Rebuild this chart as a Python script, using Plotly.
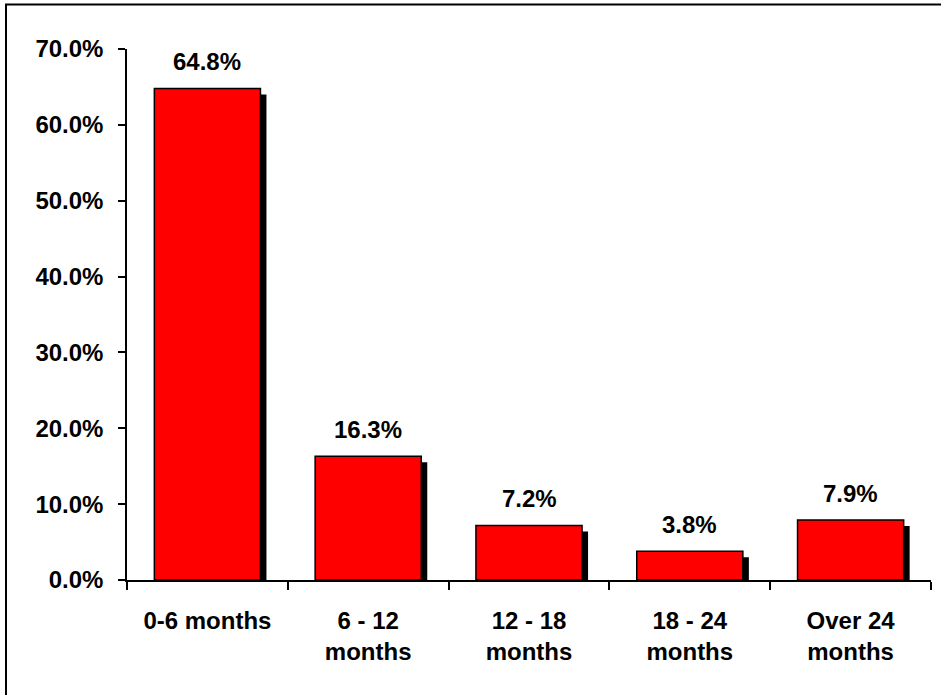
import plotly.graph_objects as go

categories = ["0-6 months", "6 - 12<br>months", "12 - 18<br>months", "18 - 24<br>months", "Over 24<br>months"]
values = [64.8, 16.3, 7.2, 3.8, 7.9]
tick_vals = [0, 10, 20, 30, 40, 50, 60, 70]

FONT = "Liberation Sans, Arial, sans-serif"
W, H = 941, 695
L, R, T, B = 127, 10, 49, 115
pw, ph = W - L - R, H - T - B

bar_w = 0.66
shadow_dx = 6 / (pw / len(categories))
shadow_dy = 6 * 70 / ph

fig = go.Figure()
fig.add_trace(go.Bar(
    x=categories, y=[v - shadow_dy for v in values],
    width=bar_w, offset=-bar_w / 2 + shadow_dx,
    marker=dict(color="black", line=dict(width=0)),
    hoverinfo="skip", showlegend=False,
))
fig.add_trace(go.Bar(
    x=categories, y=values,
    width=bar_w, offset=-bar_w / 2,
    marker=dict(color="#ff0000", line=dict(color="black", width=1.5)),
    showlegend=False,
))

annotations = [
    dict(x=c, y=v, xref="x", yref="y", text=f"<b>{v:.1f}%</b>",
         showarrow=False, yanchor="bottom", yshift=11,
         font=dict(family=FONT, size=24, color="black"))
    for c, v in zip(categories, values)
]

fig.update_layout(
    width=W, height=H,
    margin=dict(l=L, r=R, t=T, b=B),
    barmode="overlay",
    paper_bgcolor="white", plot_bgcolor="white",
    font=dict(family=FONT, color="black"),
    xaxis=dict(
        showline=True, linecolor="black", linewidth=1.5,
        ticks="outside", tickson="boundaries", ticklen=8, tickcolor="black", tickwidth=1.5,
        tickfont=dict(family=FONT, size=24, color="black"),
        ticklabelstandoff=18,
        tickvals=categories,
        ticktext=[f"<b>{c}</b>" for c in categories],
        showgrid=False,
    ),
    yaxis=dict(
        range=[0, 70], tickvals=tick_vals,
        ticktext=[f"<b>{t:.1f}%</b>" for t in tick_vals],
        showline=True, linecolor="black", linewidth=1.5,
        ticks="outside", ticklen=7, tickcolor="black", tickwidth=1.5,
        tickfont=dict(family=FONT, size=24, color="black"),
        ticklabelstandoff=10,
        showgrid=False, zeroline=False,
    ),
    annotations=annotations,
    shapes=[dict(
        type="rect", xref="paper", yref="paper",
        x0=(6 - L) / pw, x1=(1100 - L) / pw,
        y0=(H - B - 900) / ph, y1=(H - B - 4.5) / ph,
        line=dict(color="black", width=2), fillcolor="rgba(0,0,0,0)", layer="below",
    )],
)

fig.write_html("out.html", config={"displayModeBar": False},
               post_script="document.body.style.margin='0';document.body.style.overflow='hidden';")
